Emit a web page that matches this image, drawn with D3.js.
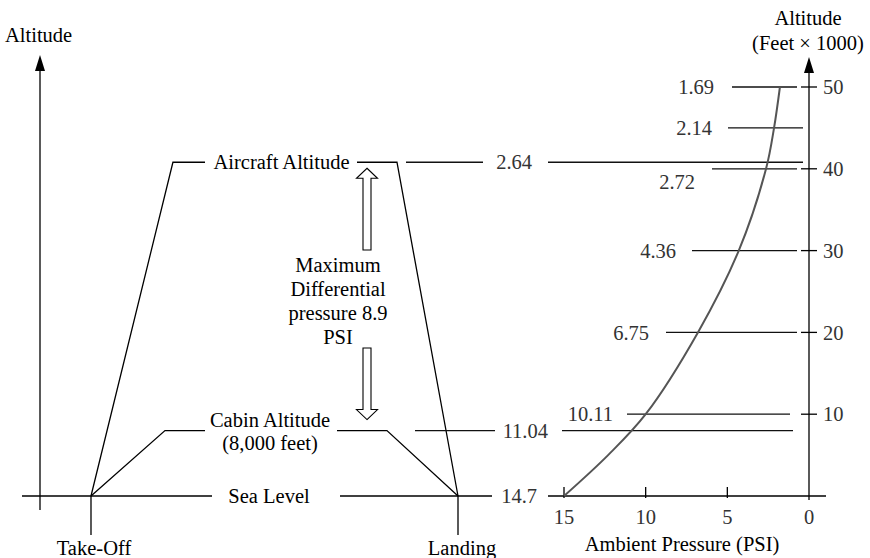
<!DOCTYPE html>
<html>
<head>
<meta charset="utf-8">
<script src="https://cdn.jsdelivr.net/npm/d3@7"></script>
<style>
  html, body { margin: 0; padding: 0; background: #fff; }
  svg { display: block; }
  text { font-family: "Liberation Serif", "Times New Roman", serif; font-size: 20.5px; }
</style>
</head>
<body>
<svg id="chart" width="870" height="558"></svg>
<script>
// ---------------- DATA ----------------
// Ambient pressure curve (PSI) vs altitude (feet x 1000)
const curveAltitude = [0, 5, 10, 20, 30, 40, 45, 50];
const curvePressure = [15, 12.3, 10.0, 6.8, 4.3, 2.63, 2.14, 1.78];

// Right axis ticks
const altitudeTicks = [10, 20, 30, 40, 50];
const pressureTicks = [15, 10, 5, 0];

// Pressure labels and the altitude each marks
const pressureLabels = ["1.69", "2.14", "2.64", "2.72", "4.36", "6.75", "10.11", "11.04", "14.7"];
const labelAltitudes = [50, 45, 40.8, 40, 30, 20, 10, 8, 0];

// Flight profile (time units, altitude feet x 1000)
const flightTime = [12.2, 31.8, 85.4, 100];
const aircraftAltitude = [0, 40.8, 40.8, 0];
const cabinTime = [12.2, 29.9, 83.0, 100];
const cabinAltitude = [0, 8, 8, 0];

const eventTimes = [12.2, 100];
const eventNames = ["Take-Off", "Landing"];

// ---------------- LAYOUT ----------------
const svg = d3.select("#chart");
const y = d3.scaleLinear().domain([0, 50]).range([496, 87]);
const xP = d3.scaleLinear().domain([15, 0]).range([564, 809]);
const xT = d3.scaleLinear().domain([0, 100]).range([40, 458]);

const ink = "#000";
const numInk = "#333";
const lw = 1.3;

function arrowHead(x, tipY) {
  svg.append("path").attr("d", `M${x},${tipY} L${x + 5},${tipY + 16} L${x - 5},${tipY + 16} Z`).attr("fill", ink);
}

// ---------- Left diagram ----------
const leftAxisX = xT(0);
svg.append("line").attr("x1", leftAxisX).attr("x2", leftAxisX)
  .attr("y1", 510).attr("y2", 66).attr("stroke", ink).attr("stroke-width", lw);
arrowHead(leftAxisX, 55);
svg.append("text").attr("x", 5).attr("y", 35).attr("dy", "0.35em").attr("fill", ink).text("Altitude");

// sea level baseline
svg.append("line").attr("x1", 22).attr("x2", 492).attr("y1", y(0)).attr("y2", y(0))
  .attr("stroke", ink).attr("stroke-width", lw);

// event ticks & labels
eventTimes.forEach((t, i) => {
  svg.append("line").attr("x1", xT(t)).attr("x2", xT(t)).attr("y1", y(0)).attr("y2", 535)
    .attr("stroke", ink).attr("stroke-width", lw);
  svg.append("text").attr("x", xT(t) + (i === 0 ? 3 : 4)).attr("y", 548).attr("dy", "0.35em")
    .attr("text-anchor", "middle").attr("fill", ink).text(eventNames[i]);
});

const line = d3.line();
svg.append("path")
  .attr("d", line(flightTime.map((t, i) => [xT(t), y(aircraftAltitude[i])])))
  .attr("fill", "none").attr("stroke", ink).attr("stroke-width", lw);
svg.append("path")
  .attr("d", line(cabinTime.map((t, i) => [xT(t), y(cabinAltitude[i])])))
  .attr("fill", "none").attr("stroke", ink).attr("stroke-width", lw);

// label gaps
function gapLabel(x1, x2, yc, h) {
  svg.append("rect").attr("x", x1).attr("width", x2 - x1).attr("y", yc - h / 2).attr("height", h).attr("fill", "#fff");
}
gapLabel(205, 357, y(40.8), 6);
gapLabel(205, 337, y(8), 6);
gapLabel(212, 340, y(0), 6);

svg.append("text").attr("x", 281.5).attr("y", y(40.8)).attr("dy", "0.35em").attr("text-anchor", "middle")
  .attr("fill", ink).text("Aircraft Altitude");
svg.append("text").attr("x", 270).attr("y", y(8) - 11).attr("dy", "0.35em").attr("text-anchor", "middle")
  .attr("fill", ink).text("Cabin Altitude");
svg.append("text").attr("x", 270).attr("y", y(8) + 12).attr("dy", "0.35em").attr("text-anchor", "middle")
  .attr("fill", ink).text("(8,000 feet)");
svg.append("text").attr("x", 269).attr("y", y(0)).attr("dy", "0.35em").attr("text-anchor", "middle")
  .attr("fill", ink).text("Sea Level");

// double arrow (outlined)
const ax = 367, hw = 10.5, sw = 4, hh = 10;
const topTip = y(40.8) + 6, topEnd = 250, botStart = 348, botTip = y(8) - 11;
svg.append("path").attr("d",
  `M${ax},${topTip} L${ax + hw},${topTip + hh} L${ax + sw},${topTip + hh} L${ax + sw},${topEnd} L${ax - sw},${topEnd} L${ax - sw},${topTip + hh} L${ax - hw},${topTip + hh} Z`)
  .attr("fill", "#fff").attr("stroke", ink).attr("stroke-width", 1.1);
svg.append("path").attr("d",
  `M${ax},${botTip} L${ax + hw},${botTip - hh} L${ax + sw},${botTip - hh} L${ax + sw},${botStart} L${ax - sw},${botStart} L${ax - sw},${botTip - hh} L${ax - hw},${botTip - hh} Z`)
  .attr("fill", "#fff").attr("stroke", ink).attr("stroke-width", 1.1);

const mdLines = ["Maximum", "Differential", "pressure 8.9", "PSI"];
mdLines.forEach((s, i) => {
  svg.append("text").attr("x", 338).attr("y", 265 + i * 24).attr("dy", "0.35em")
    .attr("text-anchor", "middle").attr("fill", ink).text(s);
});

// ---------- Right chart ----------
// pressure label layout: label right edge, label vertical offset, line segments
const labLayout = {
  "1.69": { x: 714, dy: 0, segs: [[732, 797]] },
  "2.14": { x: 712, dy: 0, segs: [[728, 803]] },
  "2.64": { x: 532, dy: 0, segs: [[406, 483], [548, 803]] },
  "2.72": { x: 695, dy: 13, segs: [[712, 797]] },
  "4.36": { x: 676, dy: 0, segs: [[692, 797]] },
  "6.75": { x: 649, dy: 0, segs: [[666, 797]] },
  "10.11": { x: 613, dy: 0, segs: [[627, 790]] },
  "11.04": { x: 548, dy: 0, segs: [[415, 495], [562, 793]] },
  "14.7": { x: 537, dy: 0, segs: [] }
};
pressureLabels.forEach((lab, i) => {
  const L = labLayout[lab];
  const yy = y(labelAltitudes[i]);
  L.segs.forEach(s => {
    svg.append("line").attr("x1", s[0]).attr("x2", s[1]).attr("y1", yy).attr("y2", yy)
      .attr("stroke", "#111").attr("stroke-width", lw);
  });
  svg.append("text").attr("x", L.x).attr("y", yy + L.dy).attr("dy", "0.35em")
    .attr("text-anchor", "end").attr("fill", numInk).text(lab);
});

// x axis (pressure)
svg.append("line").attr("x1", 548).attr("x2", 826).attr("y1", y(0)).attr("y2", y(0))
  .attr("stroke", ink).attr("stroke-width", lw);
pressureTicks.forEach(p => {
  if (p !== 0) {
    svg.append("line").attr("x1", xP(p)).attr("x2", xP(p)).attr("y1", y(0) - 9).attr("y2", y(0) + 2)
      .attr("stroke", ink).attr("stroke-width", lw);
  }
  svg.append("text").attr("x", xP(p)).attr("y", 517).attr("dy", "0.35em")
    .attr("text-anchor", "middle").attr("fill", numInk).text(p);
});
svg.append("text").attr("x", 682).attr("y", 544).attr("dy", "0.35em").attr("text-anchor", "middle")
  .attr("fill", ink).text("Ambient Pressure (PSI)");

// y axis (altitude)
svg.append("line").attr("x1", xP(0)).attr("x2", xP(0)).attr("y1", 500).attr("y2", 68)
  .attr("stroke", ink).attr("stroke-width", lw);
arrowHead(xP(0), 57);
altitudeTicks.forEach(a => {
  svg.append("line").attr("x1", xP(0) - 8).attr("x2", xP(0) + 8).attr("y1", y(a)).attr("y2", y(a))
    .attr("stroke", ink).attr("stroke-width", lw);
  svg.append("text").attr("x", 823).attr("y", y(a)).attr("dy", "0.35em")
    .attr("fill", numInk).text(a);
});
svg.append("text").attr("x", 808).attr("y", 18).attr("dy", "0.35em").attr("text-anchor", "middle")
  .attr("fill", ink).text("Altitude");
svg.append("text").attr("x", 808).attr("y", 43).attr("dy", "0.35em").attr("text-anchor", "middle")
  .attr("fill", ink).text("(Feet \u00d7 1000)");

// pressure curve
svg.append("path")
  .attr("d", d3.line().curve(d3.curveCatmullRom.alpha(0.5))(curveAltitude.map((a, i) => [xP(curvePressure[i]), y(a)])))
  .attr("fill", "none").attr("stroke", "#555").attr("stroke-width", 2);
</script>
</body>
</html>
